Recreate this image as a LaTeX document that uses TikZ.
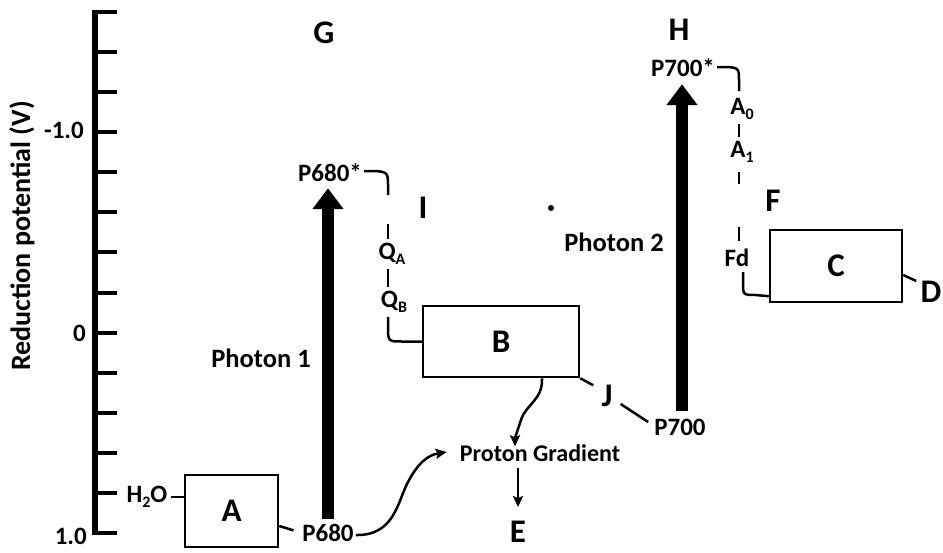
\documentclass[tikz,border=0pt]{standalone}
\usepackage{fontspec}
\setmainfont{Carlito}
\usetikzlibrary{arrows.meta,calc}
\newcommand\lowsub[1]{\raisebox{-5pt}{\fontsize{16}{16}\selectfont #1}}
\begin{document}
\begin{tikzpicture}[x=1pt,y=-1pt,
  lbl/.style={font=\fontsize{25}{25}\selectfont\bfseries, inner sep=0pt},
  biglbl/.style={font=\fontsize{26.5}{26.5}\selectfont\bfseries, inner sep=0pt},
  big/.style={font=\fontsize{33}{33}\selectfont\bfseries, inner sep=0pt},
  box/.style={draw, line width=2.5pt, inner sep=0pt, font=\fontsize{33}{33}\selectfont\bfseries},
  conn/.style={line width=2.5pt},
  flow/.style={line width=2.5pt, -{Stealth[length=11pt,width=10pt,inset=2pt]}},
  photon/.style={line width=12pt, -{Triangle[length=21pt,width=30pt]}},
  axtick/.style={line width=4pt},
]
\useasboundingbox (0,0) rectangle (943,552);

% axis
\draw[line width=5.5pt] (95,10) -- (95,535);
\foreach \k in {0,...,13} \draw[axtick] (93,{12+40.08*\k}) -- (117,{12+40.08*\k});
\node[lbl, anchor=east] (tm10) at (84,130) {-1.0};
\node[lbl, anchor=east] (t0) at (86,333) {0};
\node[lbl, anchor=east] (t10) at (87,536) {1.0};
\node[biglbl, rotate=90, font=\fontsize{28}{28}\selectfont\bfseries] (ylab) at (22,236) {Reduction potential (V)};

% letters
\node[big] (G) at (324,33) {G};
\node[big] (H) at (679,30) {H};
\node[big] (I) at (423,208) {I};
\node[big] (F) at (773,201) {F};
\node[big] (J) at (607,396) {J};
\node[big] (E) at (518,532) {E};
\node[big] (D) at (931,292) {D};

% boxes
\node[box, minimum width=93pt, minimum height=72pt] (A) at (231.5,511) {A};
\node[box, minimum width=156pt, minimum height=71pt] (B) at (501,341.5) {B};
\node[box, minimum width=132pt, minimum height=72pt] (C) at (836,266) {C};

% labels
\node[lbl] (h2o) at (147,497) {H\lowsub{2}O};
\node[lbl] (p680) at (328,533) {P680};
\node[lbl] (p680s) at (330,173) {P680*};
\node[lbl] (qa) at (392,254) {Q\lowsub{A}};
\node[lbl] (qb) at (394,302) {Q\lowsub{B}};
\node[biglbl] (ph1) at (261,358) {Photon 1};
\node[biglbl] (ph2) at (614,242) {Photon 2};
\node[lbl, font=\fontsize{24}{24}\selectfont\bfseries] (pg) at (540,453) {Proton Gradient};
\node[lbl] (p700) at (680,427) {P700};
\node[lbl] (p700s) at (683,68) {P700*};
\node[lbl] (a0) at (742,109) {A\lowsub{0}};
\node[lbl] (a1) at (742,152) {A\lowsub{1}};
\node[lbl] (fd) at (737,258) {Fd};

% speck
\fill (551,208) circle (3);

% connectors
\draw[conn, shorten <=3pt] (h2o.east) -- (A.west |- h2o.east);
\draw[conn, shorten >=9pt] ($(A.east)+(0,15)$) -- (p680.west);
\draw[flow] ($(p680.east)+(2,2)$) .. controls (395,536) and (398,500) .. (408,482)
   .. controls (418,463) and (428,455) .. ($(pg.west)+(-13,-1)$);
\draw[flow] ($(B.south)+(41,0)$) .. controls (543,400) and (526,404) .. (521,420)
   .. controls (517,432) and (515,438) .. ($(pg.north)+(-25,2)$);
\draw[flow, shorten <=6pt, shorten >=14pt] (pg.south -| E.north) -- (E.north);

\draw[conn] ($(p680s.east)+(2,-2)$) .. controls (388,171) .. (388,186) -- (388,195);
\draw[conn] ($(qa.north)+(-4,-4)$) -- ++(0,-15);
\draw[conn] ($(qa.south)+(-4,4)$) -- ($(qb.north)+(-6,-4)$);
\draw[conn] ($(qb.south)+(-6,4)$) -- (388,326) .. controls (388,341.5) .. (402,341.5) -- (B.west);

\draw[conn] (B.south east) -- ++(13,7);
\draw[conn] ($(J.east)+(8,8)$) -- ($(p700.west)+(-6,-5)$);

\draw[photon] ($(p680.north)+(0,-5)$) -- ($(p680s.south)+(-2,6)$);
\draw[photon] ($(p700.north)+(2,-8)$) -- ($(p700s.south)+(-1,7)$);

\draw[conn] ($(p700s.east)+(2,-1)$) .. controls (739,67) .. (739,80) -- (739,91);
\draw[conn] ($(a0.south)+(-3,4)$) -- ($(a1.north)+(-3,-4)$);
\draw[conn] ($(a1.south)+(-3,9)$) -- ++(0,12);
\draw[conn] ($(fd.north)+(2,-8)$) -- ++(0,-14);
\draw[conn] ($(fd.south)+(6,5)$) -- (743,282) .. controls (743,295) .. (756,295) -- ($(C.south west)+(0,-7)$);
\draw[conn] ($(C.east)+(0,9)$) -- ++(13,6);
\end{tikzpicture}
\end{document}
